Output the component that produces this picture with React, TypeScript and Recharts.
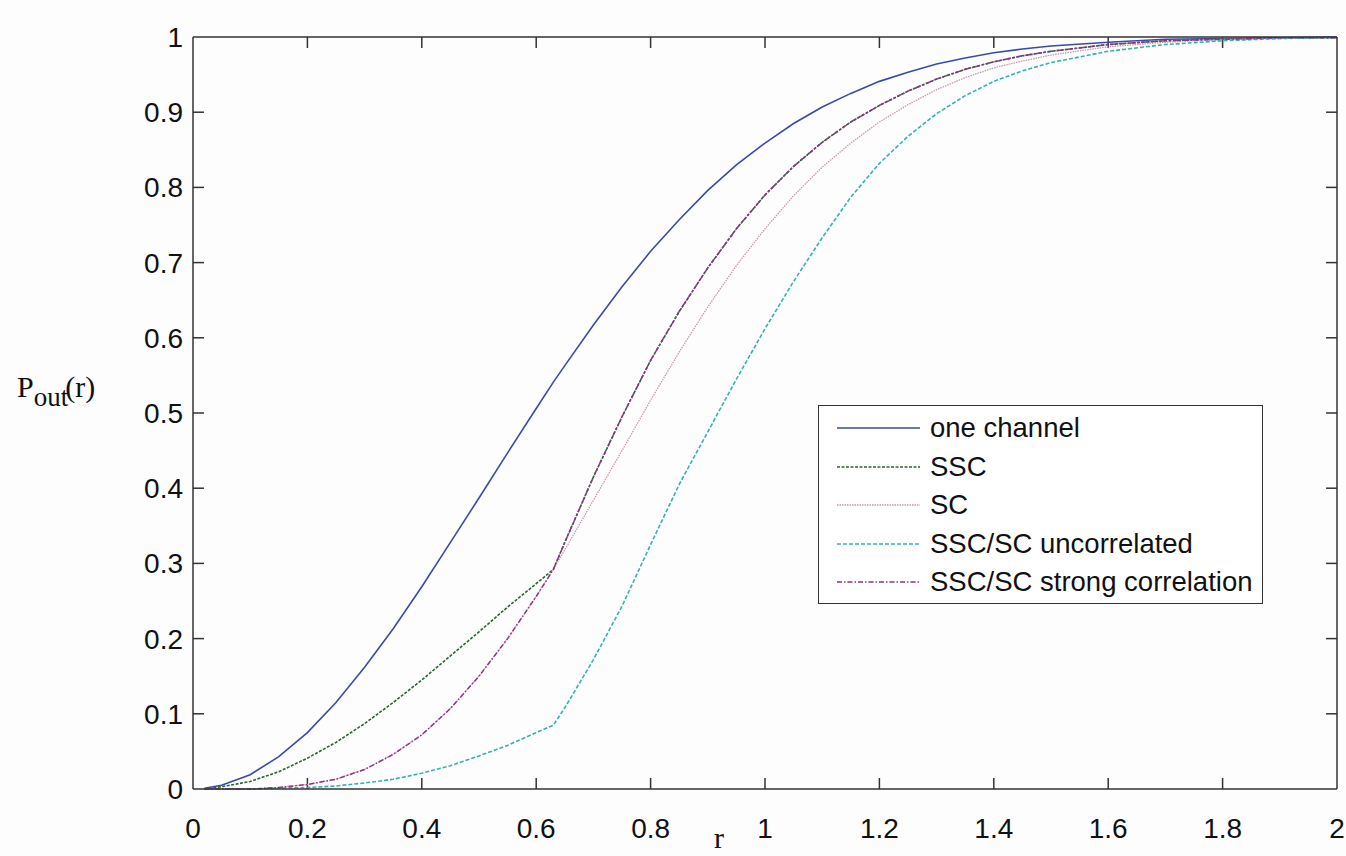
import { LineChart, Line, XAxis, YAxis, Legend, ReferenceLine } from "recharts";

// r values (x axis)
const rValues = [
  0.02, 0.05, 0.1, 0.15, 0.2, 0.25, 0.3, 0.35, 0.4, 0.45, 0.5, 0.55, 0.6, 0.63,
  0.65, 0.7, 0.75, 0.8, 0.85, 0.9, 0.95, 1.0, 1.05, 1.1, 1.15, 1.2, 1.25, 1.3,
  1.35, 1.4, 1.45, 1.5, 1.6, 1.7, 1.8, 1.9, 2.0,
];

// series
const oneChannel = [
  0.001, 0.005, 0.019, 0.043, 0.075, 0.115, 0.162, 0.213, 0.269, 0.328, 0.387, 0.447, 0.506, 0.541,
  0.563, 0.617, 0.668, 0.715, 0.757, 0.796, 0.83, 0.859, 0.885, 0.907, 0.925, 0.941, 0.953, 0.964,
  0.972, 0.979, 0.984, 0.988, 0.993, 0.997, 0.998, 0.999, 1.0,
];
const ssc = [
  0, 0.003, 0.01, 0.023, 0.041, 0.062, 0.087, 0.115, 0.145, 0.177, 0.209, 0.242, 0.273, 0.292,
  0.328, 0.415, 0.495, 0.57, 0.635, 0.693, 0.745, 0.79, 0.828, 0.86, 0.887, 0.909, 0.928, 0.944,
  0.957, 0.967, 0.975, 0.981, 0.99, 0.995, 0.997, 0.999, 0.999,
];
const sc = [
  0, 0, 0, 0.002, 0.006, 0.013, 0.026, 0.046, 0.072, 0.107, 0.15, 0.2, 0.256, 0.292,
  0.318, 0.384, 0.45, 0.517, 0.581, 0.641, 0.696, 0.745, 0.789, 0.827, 0.859, 0.887, 0.91, 0.93,
  0.946, 0.959, 0.968, 0.976, 0.987, 0.993, 0.997, 0.998, 0.999,
];
const uncorrelated = [
  0, 0, 0, 0.001, 0.002, 0.004, 0.008, 0.013, 0.021, 0.031, 0.044, 0.058, 0.075, 0.085,
  0.108, 0.172, 0.243, 0.325, 0.405, 0.475, 0.545, 0.612, 0.675, 0.733, 0.787, 0.832, 0.868, 0.898,
  0.922, 0.941, 0.955, 0.966, 0.981, 0.99, 0.995, 0.998, 0.999,
];
const strongCorr = [
  0, 0, 0, 0.002, 0.006, 0.013, 0.026, 0.046, 0.072, 0.107, 0.15, 0.2, 0.256, 0.292,
  0.328, 0.415, 0.495, 0.57, 0.635, 0.693, 0.745, 0.79, 0.828, 0.86, 0.887, 0.909, 0.928, 0.944,
  0.957, 0.967, 0.975, 0.981, 0.99, 0.995, 0.997, 0.999, 0.999,
];

const xTicks = [0, 0.2, 0.4, 0.6, 0.8, 1, 1.2, 1.4, 1.6, 1.8, 2];
const yTicks = [0, 0.1, 0.2, 0.3, 0.4, 0.5, 0.6, 0.7, 0.8, 0.9, 1];

const data = rValues.map((r, i) => ({
  r,
  one: oneChannel[i],
  ssc: ssc[i],
  sc: sc[i],
  unc: uncorrelated[i],
  strong: strongCorr[i],
}));

const series = [
  { key: "one", name: "one channel", color: "#3b4aa6", dash: undefined, width: 1.6 },
  { key: "ssc", name: "SSC", color: "#2b6530", dash: "3 1.5", width: 1.6 },
  { key: "sc", name: "SC", color: "#c997ad", dash: "1.5 1", width: 1.3 },
  { key: "unc", name: "SSC/SC uncorrelated", color: "#35b2ad", dash: "4 2", width: 1.6 },
  { key: "strong", name: "SSC/SC strong correlation", color: "#8c3589", dash: "5 2 1.5 2", width: 1.5 },
];

const AXIS = "#333";
const SANS = "'Liberation Sans', Arial, sans-serif";
const SERIF = "'Liberation Serif', 'Times New Roman', serif";
const fmt = (v: number) => String(Number(v.toFixed(1)));

// inward tick length (about 11 px) in data units
const TICK_X = 0.0192;
const TICK_Y = 0.0146;

const BottomTick = ({ x, y, payload }: any) => (
  <text x={x} y={y + 49} textAnchor="middle" fontSize={28} fontFamily={SANS} fill="#111">
    {fmt(payload.value)}
  </text>
);
const LeftTick = ({ x, y, payload }: any) => (
  <text x={x - 10} y={y + 10} textAnchor="end" fontSize={28} fontFamily={SANS} fill="#111">
    {fmt(payload.value)}
  </text>
);

const LegendBox = () => (
  <div
    style={{
      width: 445,
      height: 199,
      boxSizing: "border-box",
      border: `1.5px solid ${AXIS}`,
      background: "#fff",
      paddingTop: 3,
      fontFamily: SANS,
      fontSize: 27.5,
      color: "#111",
    }}
  >
    {series.map((s) => (
      <div key={s.key} style={{ height: 38.5, display: "flex", alignItems: "center" }}>
        <svg width={102} height={10} style={{ flex: "none" }}>
          <line x1={18} y1={5} x2={101} y2={5} stroke={s.color} strokeWidth={s.width} strokeDasharray={s.dash} />
        </svg>
        <span style={{ marginLeft: 9, whiteSpace: "nowrap" }}>{s.name}</span>
      </div>
    ))}
  </div>
);

const tickLine = { stroke: AXIS, strokeWidth: 1.5 };

export default function App() {
  return (
    <div style={{ position: "absolute", left: 0, top: 0, width: 1346, height: 856, background: "#fdfdfd" }}>
      <LineChart width={1346} height={856} data={data} margin={{ top: 36, right: 8, bottom: 7, left: 133 }}>
        <XAxis
          dataKey="r"
          type="number"
          domain={[0, 2]}
          ticks={xTicks}
          height={60}
          tickSize={0}
          tickMargin={0}
          tickLine={false}
          axisLine={{ stroke: AXIS, strokeWidth: 1.5 }}
          tick={<BottomTick />}
          interval={0}
          label={{
            content: () => (
              <text x={719} y={848} textAnchor="middle" fontSize={30} fontFamily={SERIF} fill="#111">
                r
              </text>
            ),
          }}
        />
        <XAxis
          xAxisId="top"
          orientation="top"
          dataKey="r"
          type="number"
          domain={[0, 2]}
          height={1}
          tick={false}
          tickLine={false}
          axisLine={{ stroke: AXIS, strokeWidth: 1.5 }}
        />
        <YAxis
          type="number"
          domain={[0, 1]}
          ticks={yTicks}
          width={60}
          tickSize={0}
          tickMargin={0}
          tickLine={false}
          axisLine={{ stroke: AXIS, strokeWidth: 1.5 }}
          tick={<LeftTick />}
          interval={0}
          label={{
            content: () => (
              <text x={17} y={397} fontSize={30} fontFamily={SERIF} fill="#111">
                P
                <tspan fontSize={27} dy={9}>out</tspan>
                <tspan dy={-9} dx={-3}>(r)</tspan>
              </text>
            ),
          }}
        />
        <YAxis
          yAxisId="right"
          orientation="right"
          type="number"
          domain={[0, 1]}
          width={1}
          tick={false}
          tickLine={false}
          axisLine={{ stroke: AXIS, strokeWidth: 1.5 }}
        />
        {xTicks.slice(1, -1).map((t) => (
          <ReferenceLine key={`xb${t}`} segment={[{ x: t, y: 0 }, { x: t, y: TICK_Y }]} {...tickLine} />
        ))}
        {xTicks.slice(1, -1).map((t) => (
          <ReferenceLine key={`xt${t}`} segment={[{ x: t, y: 1 }, { x: t, y: 1 - TICK_Y }]} {...tickLine} />
        ))}
        {yTicks.slice(1, -1).map((t) => (
          <ReferenceLine key={`yl${t}`} segment={[{ x: 0, y: t }, { x: TICK_X, y: t }]} {...tickLine} />
        ))}
        {yTicks.slice(1, -1).map((t) => (
          <ReferenceLine key={`yr${t}`} segment={[{ x: 2, y: t }, { x: 2 - TICK_X, y: t }]} {...tickLine} />
        ))}
        {series.map((s) => (
          <Line
            key={s.key}
            dataKey={s.key}
            name={s.name}
            type="linear"
            stroke={s.color}
            strokeWidth={s.width}
            strokeDasharray={s.dash}
            dot={false}
            activeDot={false}
            isAnimationActive={false}
          />
        ))}
        <Legend
          layout="vertical"
          align="center"
          verticalAlign="middle"
          content={<LegendBox />}
          wrapperStyle={{ position: "absolute", left: 818, top: 405, width: 445, height: 199 }}
        />
      </LineChart>
    </div>
  );
}
